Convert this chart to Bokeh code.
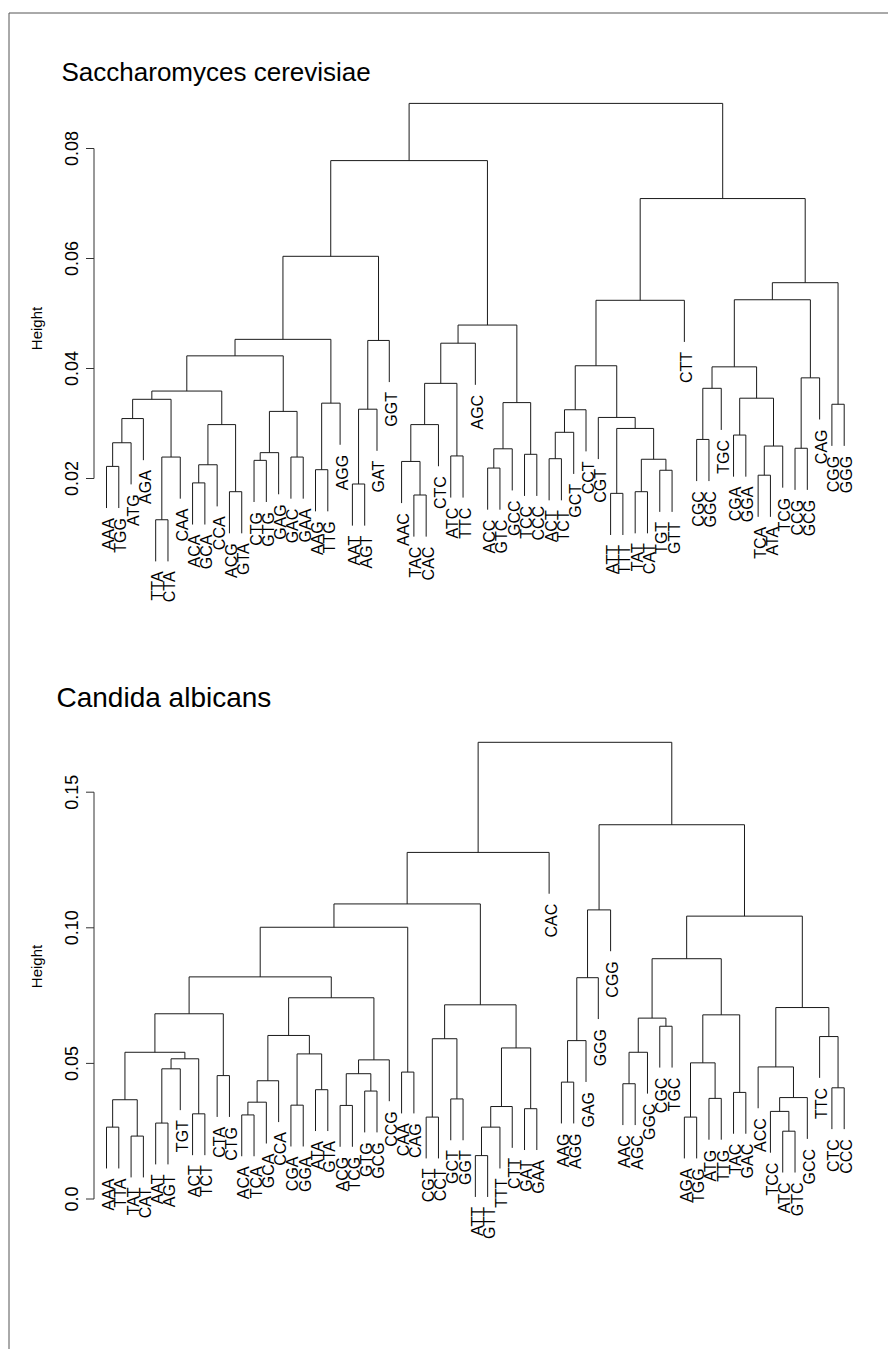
import math

from bokeh.core.properties import value
from bokeh.embed import file_html
from bokeh.models import Range1d
from bokeh.plotting import figure
from bokeh.resources import INLINE

PAGE_W, PAGE_H = 888, 1349
FONT = value("Liberation Sans")

# ---------------------------------------------------------------------------
# Saccharomyces cerevisiae: leaf order, merges (leaf name or earlier merge id)
# and merge heights
# ---------------------------------------------------------------------------
sc_leaves = [
    "AAA", "TGG", "ATG", "AGA", "TTA", "CTA", "CAA", "ACA", "GCA", "CCA",
    "ACG", "GTA", "CTG", "GTG", "GAG", "GAC", "GAA", "AAG", "TTG", "AGG",
    "AAT", "AGT", "GAT", "GGT", "AAC", "TAC", "CAC", "CTC", "ATC", "TTC",
    "AGC", "ACC", "GTC", "GCC", "TCC", "CCC", "ACT", "TCT", "GCT", "CCT",
    "CGT", "ATT", "TTT", "TAT", "CAT", "TGT", "GTT", "CTT", "CGC", "GGC",
    "TGC", "CGA", "GGA", "TCA", "ATA", "TCG", "CCG", "GCG", "CAG", "CGG",
    "GGG",
]
sc_merges = [
    ("AAA", "TGG"), (0, "ATG"), (1, "AGA"), ("TTA", "CTA"), (3, "CAA"),
    (2, 4), ("ACA", "GCA"), (6, "CCA"), ("ACG", "GTA"), (7, 8),
    (5, 9), ("CTG", "GTG"), (11, "GAG"), ("GAC", "GAA"), (12, 13),
    (10, 14), ("AAG", "TTG"), (16, "AGG"), (15, 17), ("AAT", "AGT"),
    (19, "GAT"), (20, "GGT"), (18, 21), ("TAC", "CAC"), ("AAC", 23),
    (24, "CTC"), ("ATC", "TTC"), (25, 26), (27, "AGC"), ("ACC", "GTC"),
    (29, "GCC"), ("TCC", "CCC"), (30, 31), (28, 32), (22, 33),
    ("ACT", "TCT"), (35, "GCT"), (36, "CCT"), ("ATT", "TTT"), ("TAT", "CAT"),
    ("TGT", "GTT"), (39, 40), (38, 41), ("CGT", 42), (37, 43),
    (44, "CTT"), ("CGC", "GGC"), (46, "TGC"), ("CGA", "GGA"), ("TCA", "ATA"),
    (49, "TCG"), (48, 50), (47, 51), ("CCG", "GCG"), (53, "CAG"),
    (52, 54), ("CGG", "GGG"), (55, 56), (45, 57), (34, 58),
]
sc_heights = [
    0.0222, 0.0265, 0.0309, 0.0125, 0.0239, 0.0344, 0.0192, 0.0225, 0.0176, 0.0298,
    0.0359, 0.0233, 0.0247, 0.0239, 0.0322, 0.0423, 0.0216, 0.0337, 0.0453, 0.0190,
    0.0326, 0.0451, 0.0604, 0.0170, 0.0231, 0.0298, 0.0241, 0.0373, 0.0446, 0.0219,
    0.0254, 0.0244, 0.0338, 0.0479, 0.0778, 0.0236, 0.0284, 0.0325, 0.0173, 0.0176,
    0.0215, 0.0235, 0.0291, 0.0311, 0.0405, 0.0524, 0.0271, 0.0364, 0.0279, 0.0206,
    0.0259, 0.0346, 0.0403, 0.0255, 0.0383, 0.0525, 0.0335, 0.0556, 0.0709, 0.0882,
]
sc_ticks = [0.02, 0.04, 0.06, 0.08]
sc_tick_labels = ["0.02", "0.04", "0.06", "0.08"]

# ---------------------------------------------------------------------------
# Candida albicans
# ---------------------------------------------------------------------------
ca_leaves = [
    "AAA", "TTA", "TAT", "CAT", "AAT", "AGT", "TGT", "ACT", "TCT", "CTA",
    "CTG", "ACA", "TCA", "GCA", "CCA", "CGA", "GGA", "ATA", "GTA", "ACG",
    "TCG", "GTG", "GCG", "CCG", "CAA", "CAG", "CGT", "CCT", "GCT", "GGT",
    "ATT", "GTT", "TTT", "CTT", "GAT", "GAA", "CAC", "AAG", "AGG", "GAG",
    "GGG", "CGG", "AAC", "AGC", "GGC", "CGC", "TGC", "AGA", "TGG", "ATG",
    "TTG", "TAC", "GAC", "ACC", "TCC", "ATC", "GTC", "GCC", "TTC", "CTC",
    "CCC",
]
ca_merges = [
    ("AAA", "TTA"), ("TAT", "CAT"), (0, 1), ("AAT", "AGT"), (3, "TGT"),
    ("ACT", "TCT"), (4, 5), (2, 6), ("CTA", "CTG"), (7, 8),
    ("ACA", "TCA"), (10, "GCA"), (11, "CCA"), ("CGA", "GGA"), ("ATA", "GTA"),
    (13, 14), (12, 15), ("ACG", "TCG"), ("GTG", "GCG"), (17, 18),
    (19, "CCG"), (16, 20), (9, 21), ("CAA", "CAG"), (22, 23),
    ("CGT", "CCT"), ("GCT", "GGT"), (25, 26), ("ATT", "GTT"), (28, "TTT"),
    (29, "CTT"), ("GAT", "GAA"), (30, 31), (27, 32), (24, 33),
    (34, "CAC"), ("AAG", "AGG"), (36, "GAG"), (37, "GGG"), (38, "CGG"),
    ("AAC", "AGC"), (40, "GGC"), ("CGC", "TGC"), (41, 42), ("AGA", "TGG"),
    ("ATG", "TTG"), (44, 45), ("TAC", "GAC"), (46, 47), (43, 48),
    ("ATC", "GTC"), ("TCC", 50), (51, "GCC"), ("ACC", 52), ("CTC", "CCC"),
    ("TTC", 54), (53, 55), (49, 56), (39, 57), (35, 58),
]
ca_heights = [
    0.0265, 0.0232, 0.0366, 0.0280, 0.0480, 0.0314, 0.0517, 0.0541, 0.0455, 0.0683,
    0.0310, 0.0357, 0.0436, 0.0346, 0.0403, 0.0535, 0.0603, 0.0345, 0.0398, 0.0462,
    0.0513, 0.0742, 0.0819, 0.0468, 0.1002, 0.0302, 0.0369, 0.0591, 0.0160, 0.0265,
    0.0341, 0.0333, 0.0557, 0.0716, 0.1088, 0.1278, 0.0431, 0.0584, 0.0816, 0.1066,
    0.0425, 0.0541, 0.0637, 0.0667, 0.0302, 0.0371, 0.0502, 0.0393, 0.0679, 0.0886,
    0.0250, 0.0323, 0.0374, 0.0487, 0.0410, 0.0599, 0.0706, 0.1043, 0.1380, 0.1684,
]
ca_ticks = [0.0, 0.05, 0.10, 0.15]
ca_tick_labels = ["0.0", "0.05", "0.10", "0.15"]

# ---------------------------------------------------------------------------
# page geometry (pixels from the top-left corner of the page)
# ---------------------------------------------------------------------------
LEAF_X0 = 106.0      # x of the first leaf
LEAF_DX = 12.295     # spacing between neighbouring leaves
AXIS_X = 93.5
TICK_LEN = 8
TICK_LABEL_X = 71
YLAB_X = 36

panels = [
    dict(key="sc", title="Saccharomyces cerevisiae", leaves=sc_leaves,
         merges=sc_merges, heights=sc_heights, ticks=sc_ticks,
         tick_labels=sc_tick_labels, zero_px=588.0, px_per_unit=5500.0,
         title_xy=(61, 71), title_size="26px", ylab_y=328),
    dict(key="ca", title="Candida albicans", leaves=ca_leaves,
         merges=ca_merges, heights=ca_heights, ticks=ca_ticks,
         tick_labels=ca_tick_labels, zero_px=1198.5, px_per_unit=2712.0,
         title_xy=(56, 697), title_size="28px", ylab_y=966),
]


def dendrogram_segments(leaves, merges, heights, hang_frac=0.1):
    """Return U-shaped link segments and leaf ends, R plot.hclust style."""
    hang = hang_frac * (max(heights) - min(heights))
    pos = {name: i + 1 for i, name in enumerate(leaves)}
    node_x, node_h = [], []
    x0, y0, x1, y1 = [], [], [], []
    leaf_x, leaf_y, leaf_text = [], [], []

    def child(c, h):
        if isinstance(c, int):
            return node_x[c], node_h[c]
        leaf_x.append(pos[c])
        leaf_y.append(h - hang)
        leaf_text.append(c)
        return pos[c], h - hang

    for (a, b), h in zip(merges, heights):
        xa, ya = child(a, h)
        xb, yb = child(b, h)
        x0 += [xa, xb, xa]
        y0 += [ya, yb, h]
        x1 += [xa, xb, xb]
        y1 += [h, h, h]
        node_x.append((xa + xb) / 2)
        node_h.append(h)
    return dict(x0=x0, y0=y0, x1=x1, y1=y1), dict(x=leaf_x, y=leaf_y, text=leaf_text)


# one page-sized canvas: default ranges are page pixels, extra ranges carry data
p = figure(width=PAGE_W, height=PAGE_H,
           x_range=Range1d(0, PAGE_W), y_range=Range1d(PAGE_H, 0),
           toolbar_location=None, output_backend="svg",
           x_axis_type=None, y_axis_type=None, min_border=0)
p.outline_line_color = None
p.background_fill_color = "white"
p.border_fill_color = "white"

p.extra_x_ranges = {
    "leaf": Range1d(1 - LEAF_X0 / LEAF_DX, 1 + (PAGE_W - LEAF_X0) / LEAF_DX)
}
for pn in panels:
    z, ppu = pn["zero_px"], pn["px_per_unit"]
    p.extra_y_ranges[pn["key"]] = Range1d((z - PAGE_H) / ppu, z / ppu)

# page frame (top and left edges)
p.segment(x0=[8.5, 8.5], y0=[12.5, 12.5], x1=[PAGE_W, 8.5], y1=[12.5, PAGE_H],
          line_color="#555555", line_width=1)

for pn in panels:
    key = pn["key"]
    links, ends = dendrogram_segments(pn["leaves"], pn["merges"], pn["heights"])

    p.segment(x0="x0", y0="y0", x1="x1", y1="y1", source=links,
              x_range_name="leaf", y_range_name=key,
              line_color="#1a1a1a", line_width=1)

    p.text(x="x", y="y", text="text", source=ends,
           x_range_name="leaf", y_range_name=key,
           angle=math.pi / 2, text_align="right", text_baseline="middle",
           x_offset=2, y_offset=10,
           text_font=FONT, text_font_size="16px", text_color="black")

    # height axis
    t = pn["ticks"]
    p.segment(x0=[AXIS_X], y0=[t[0]], x1=[AXIS_X], y1=[t[-1]],
              y_range_name=key, line_color="#333333", line_width=1)
    p.segment(x0=[AXIS_X - TICK_LEN] * len(t), y0=t,
              x1=[AXIS_X] * len(t), y1=t,
              y_range_name=key, line_color="#333333", line_width=1)
    p.text(x=[TICK_LABEL_X] * len(t), y=t, text=pn["tick_labels"],
           y_range_name=key, angle=math.pi / 2,
           text_align="center", text_baseline="middle",
           text_font=FONT, text_font_size="18px", text_color="black")

    p.text(x=[YLAB_X], y=[pn["ylab_y"]], text=["Height"],
           angle=math.pi / 2, text_align="center", text_baseline="middle",
           text_font=FONT, text_font_size="15px", text_color="black")

    tx, ty = pn["title_xy"]
    p.text(x=[tx], y=[ty], text=[pn["title"]],
           text_align="left", text_baseline="alphabetic",
           text_font=FONT, text_font_size=pn["title_size"], text_color="black")

open("out.html", "w").write(file_html(p, INLINE))
